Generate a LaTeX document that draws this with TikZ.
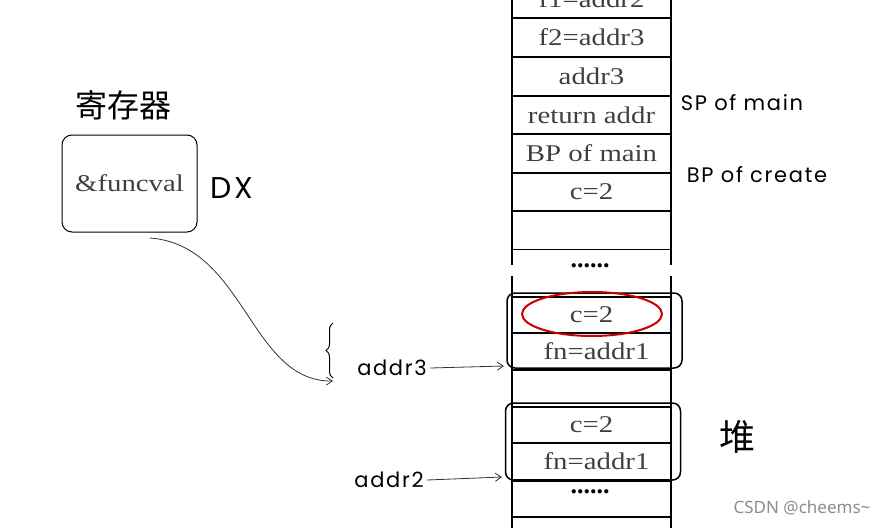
\documentclass[tikz,border=0pt]{standalone}
\usepackage{fontspec}
\setmainfont{Liberation Serif}
\newfontfamily\cellfont[FakeStretch=1.2]{Liberation Serif}
\newfontfamily\handfont[LetterSpace=8]{Poppins}
\newfontfamily\cjkfont{Noto Sans CJK SC}
\newfontfamily\markfont{Noto Sans}
\usetikzlibrary{arrows.meta,positioning,decorations.pathreplacing}

\begin{document}
\begin{tikzpicture}[x=1pt,y=-1pt,
  cell/.style={draw,line width=1.8pt,minimum width=159pt,minimum height=38.4pt,inner sep=0pt,outer sep=0pt,
    font=\cellfont\fontsize{24}{24}\selectfont,text=black!75},
  heapcell/.style={cell,minimum height=36.6pt},
  hand/.style={font=\handfont\fontsize{21}{21}\selectfont},
  dots/.style={font=\bfseries\fontsize{26}{26}\selectfont},
  frame/.style={draw,line width=1.5pt,rounded corners=8pt,minimum width=175pt,inner sep=0pt},
  ptr/.style={-{Straight Barb[length=6pt,width=8pt]},line width=0.8pt,black!80}]
  \clip (0,0) rectangle (893,527);
  % stack rails, broken at the gap
  \draw[line width=1.8pt] (512,-5)--(512,265) (671,-5)--(671,265);
  \draw[line width=1.8pt] (512,276)--(512,530) (671,276)--(671,530);
  % frame of main and create
  \node[cell] (f1) at (591.5,-1.2) {f1=addr2};
  \node[cell] (f2) at (591.5,37.5) {f2=addr3};
  \node[cell] (ret3) at (591.5,76.5) {addr3};
  \node[cell] (retaddr) at (591.5,115) {return addr};
  \node[cell] (oldbp) at (591.5,153.5) {BP of main};
  \node[cell] (cloc) at (591.5,192) {c=2};
  \node[cell] (empty) at (591.5,230.3) {};
  \node[dots] (gap) at (590,266) {......};
  % heap
  \node[heapcell] (cA) at (591.5,315) {c=2};
  \node[heapcell] (fnA) at (591.5,351.5) {\hspace*{10pt}fn=addr1};
  \node[heapcell] (cB) at (591.5,425) {c=2};
  \node[heapcell] (fnB) at (591.5,461.5) {\hspace*{10pt}fn=addr1};
  \node[heapcell] (tail) at (591.5,499) {};
  \node[dots] (tailgap) at (590,492) {......};
  \node[frame,minimum height=75pt] (heapA) at (594.5,330.5) {};
  \node[frame,minimum height=77pt] (heapB) at (593,441.5) {};
  \draw[red!80!black,line width=2pt] (cA.center) ++(0.5,-1) ellipse [x radius=70,y radius=22];
  % register
  \node[font=\cjkfont\fontsize{32}{32}\selectfont] (regtitle) at (123,105) {寄存器};
  \node[draw,line width=1pt,rounded corners=10pt,minimum width=135pt,minimum height=97pt,
    font=\cellfont\fontsize{24}{24}\selectfont,text=black!75] (reg) at (129.5,183.5) {\&funcval};
  \node[font=\handfont\fontsize{30}{30}\selectfont] (dx) at (232,188) {DX};
  \coordinate (from) at (150,238);
  \coordinate (bot) at (333,381);
  \draw[ptr] (from) .. controls (245,245) and (250,382) .. (bot);
  \draw[line width=1pt,decorate,decoration={brace,amplitude=7pt}] (333,378) -- (333,323);
  % addresses
  \node[hand] (a3) at (392,368) {addr3};
  \node[hand] (a2) at (389,480) {addr2};
  \coordinate (in3) at (504,366);
  \coordinate (in2) at (502,477);
  \draw[ptr] (a3.east) -- (in3);
  \draw[ptr] (a2.east) -- (in2);
  % labels on the right
  \node[hand] (spmain) at (742,103) {SP of main};
  \node[hand] (bpcreate) at (757,175) {BP of create};
  \node[font=\cjkfont\fontsize{36}{36}\selectfont] (heap) at (737,437) {堆};
  \node[font=\markfont\fontsize{17}{17}\selectfont,text=black!45] (mark) at (802,508) {CSDN @cheems\textasciitilde};
\end{tikzpicture}
\end{document}
